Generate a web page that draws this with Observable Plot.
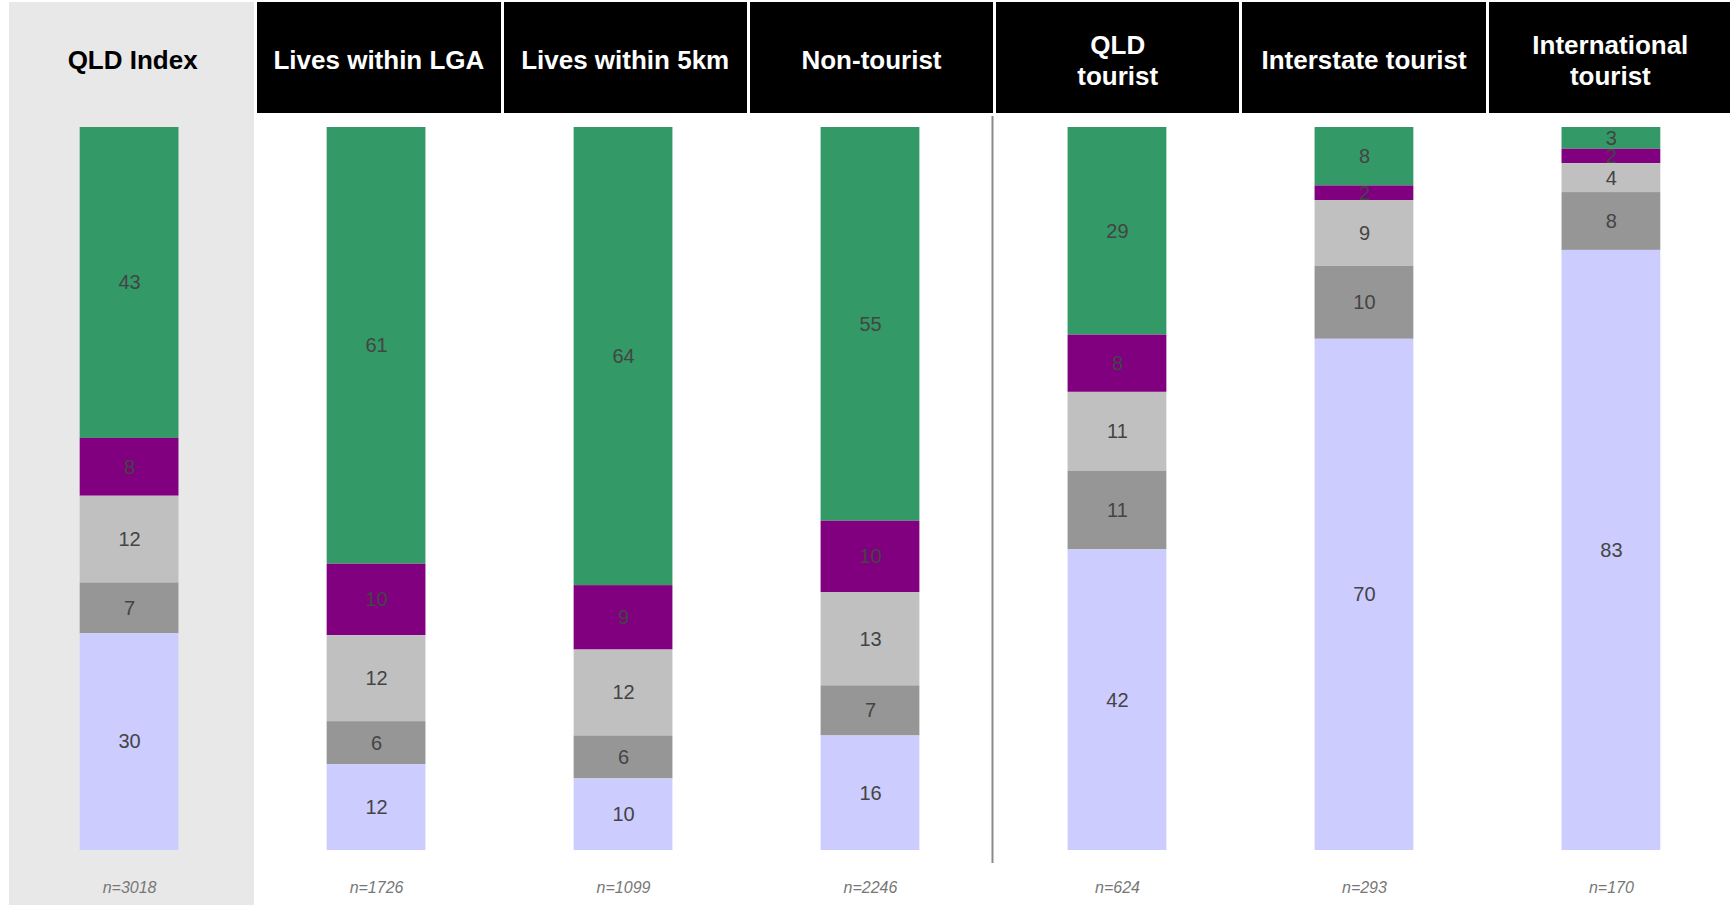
<!DOCTYPE html>
<html><head><meta charset="utf-8">
<script src="https://cdn.jsdelivr.net/npm/d3@7"></script>
<script src="https://cdn.jsdelivr.net/npm/@observablehq/plot@0.6"></script>
<style>
body{margin:0;background:#fff;font-family:"Liberation Sans",Arial,sans-serif;}
#wrap{position:relative;width:1730px;height:905px;overflow:hidden;}
#bg{position:absolute;background:#e8e8e8;}
#head{position:relative;height:113px;}
.hb{position:absolute;top:2px;height:111px;box-sizing:border-box;padding-top:6px;background:#000;color:#fff;font-weight:bold;font-size:26px;display:flex;align-items:center;justify-content:center;text-align:center;line-height:31px;white-space:pre-line;}
.hb.first{background:transparent;color:#000;}
#chart{position:relative;}
</style></head><body>
<div id="wrap"><div id="bg"></div><div id="head"></div><div id="chart"></div></div>
<script>
const groups = ["QLD Index","Lives within LGA","Lives within 5km","Non-tourist","QLD tourist","Interstate tourist","International tourist"];
const headerLabels = ["QLD Index","Lives within LGA","Lives within 5km","Non-tourist","QLD\ntourist","Interstate tourist","International\ntourist"];
const sampleSizes = [3018,1726,1099,2246,624,293,170];
// series listed top to bottom
const seriesNames = ["Category 1","Category 2","Category 3","Category 4","Category 5"];
const category1 = [43,61,64,55,29,8,3];
const category2 = [8,10,9,10,8,2,2];
const category3 = [12,12,12,13,11,9,4];
const category4 = [7,6,6,7,11,10,8];
const category5 = [30,12,10,16,42,70,83];
const seriesColors = ["#339966","#800080","#c0c0c0","#969696","#ccccff"];

const seriesValues = [category1,category2,category3,category4,category5];
const data = [];
groups.forEach((g,i)=>seriesNames.forEach((s,j)=>data.push({group:g, series:s, value:seriesValues[j][i]})));

const W = 1730, H = 792, mL = 13, mR = 3, pIn = 0.6, pOut = 0.27;
const step = (W - mL - mR) / (groups.length - pIn + 2*pOut);
const stackOpts = {x:"group", y:"value", z:"series", order: seriesNames.slice().reverse(), offset:"normalize"};

const plot = Plot.plot({
  width: W, height: H,
  marginLeft: mL, marginRight: mR, marginTop: 14, marginBottom: 55,
  style: {background:"transparent", fontFamily:"Liberation Sans, Arial, sans-serif"},
  x: {domain: groups, paddingInner: pIn, paddingOuter: pOut, round: false, axis: null},
  y: {domain: [0,1], axis: null},
  color: {domain: seriesNames, range: seriesColors},
  marks: [
    Plot.barY(data, Plot.stackY({...stackOpts, fill:"series"})),
    Plot.text(data, Plot.stackY({...stackOpts, text: d=>String(d.value), fill:"#444", fontSize:20})),
    Plot.text(groups, {x: d=>d, text: (d,i)=>"n="+sampleSizes[i], frameAnchor:"bottom", dy:42, fontStyle:"italic", fill:"#777", fontSize:16}),
    Plot.ruleX(["QLD tourist"], {x: d=>d, dx: -step/2 - 1.5, stroke:"#8a8a8a", strokeWidth:2, insetTop:-11, insetBottom:-13})
  ]
});
document.getElementById("chart").appendChild(plot);

// header panels laid out on their own band scale
const hx = d3.scaleBand().domain(groups).range([9, 1733]).padding(0);
const head = document.getElementById("head");
groups.forEach((g,i)=>{
  const d = document.createElement("div");
  d.className = "hb" + (i===0 ? " first" : "");
  d.style.left = (hx(g) + 2) + "px";
  d.style.width = (hx.step() - 3) + "px";
  d.textContent = headerLabels[i];
  head.appendChild(d);
});
const bg = document.getElementById("bg");
bg.style.left = hx(groups[0]) + "px";
bg.style.width = (hx.step() - 1) + "px";
bg.style.top = "2px";
bg.style.height = "903px";
</script>
</body></html>
